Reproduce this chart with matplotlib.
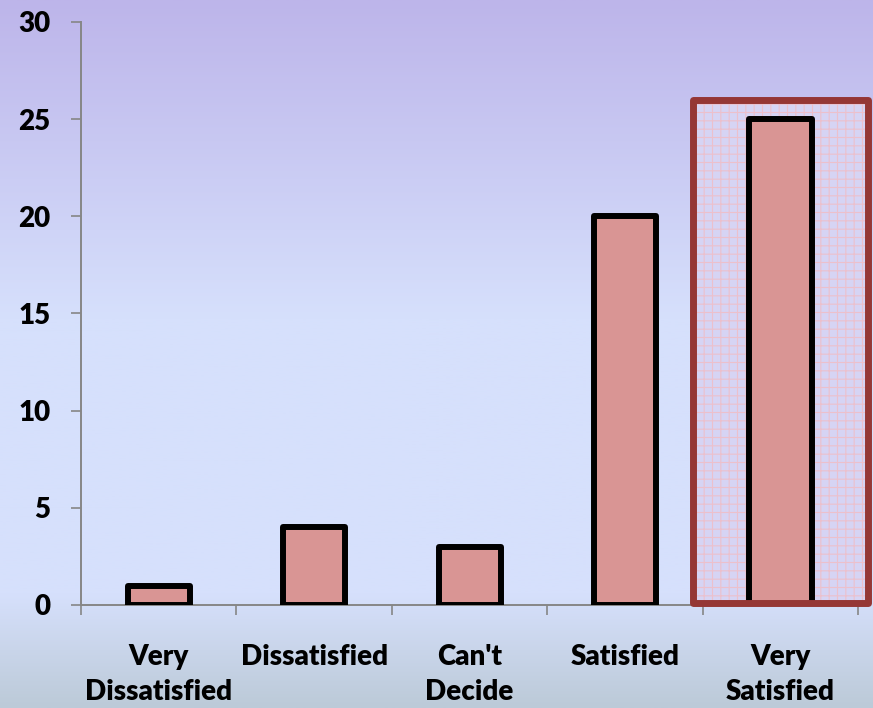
import numpy as np
import matplotlib
matplotlib.use("Agg")
import matplotlib.pyplot as plt
from matplotlib.colors import LinearSegmentedColormap
from matplotlib.patches import Rectangle

# ------------------------------------
# Data
# ------------------------------------
categories = ["Very\nDissatisfied", "Dissatisfied", "Can't\nDecide", "Satisfied", "Very\nSatisfied"]
counts = [1, 4, 3, 20, 25]
y_ticks = [0, 5, 10, 15, 20, 25, 30]
highlight_index = 4
highlight_top = 26

BAR_COLOR = "#d99594"
BOX_COLOR = "#953735"
SPINE_COLOR = "#868686"

plt.rcParams["font.family"] = ["Lato", "DejaVu Sans"]
plt.rcParams["hatch.linewidth"] = 0.8

fig = plt.figure(figsize=(8.73, 7.08), dpi=100)

# ------------------------------------
# Background gradient
# ------------------------------------
bg = fig.add_axes([0, 0, 1, 1], zorder=-10)
bg_cmap = LinearSegmentedColormap.from_list(
    "bg",
    [(0.0, "#bdb5ea"), (0.45, "#d6e0fc"), (0.84, "#d6e0fc"), (1.0, "#bccad8")],
)
grad = np.linspace(0, 1, 256).reshape(-1, 1)
bg.imshow(grad, aspect="auto", cmap=bg_cmap, extent=[0, 1, 0, 1], origin="upper")
bg.set_axis_off()

# ------------------------------------
# Chart
# ------------------------------------
ax = fig.add_axes([0.0928, 0.1455, 0.8902, 0.8235])
ax.patch.set_alpha(0)

x = np.arange(len(categories))
ax.bar(x, counts, width=0.4, color=BAR_COLOR, edgecolor="black",
       linewidth=4.3, joinstyle="round", zorder=3)

# highlight box around the last category
hx = highlight_index
ax.add_patch(Rectangle((hx - 0.565, 0.1), 1.13, highlight_top - 0.1,
                       facecolor="#d6d4f4", edgecolor="#ecc0cc", hatch="++",
                       linewidth=0, zorder=2, clip_on=False))
ax.add_patch(Rectangle((hx - 0.565, 0.1), 1.13, highlight_top - 0.1,
                       facecolor="none", edgecolor=BOX_COLOR, linewidth=5,
                       joinstyle="round", zorder=4, clip_on=False))

ax.set_xlim(-0.5, len(categories) - 0.5)
ax.set_ylim(0, 30)

ax.set_yticks(y_ticks)
ax.set_yticklabels([str(v) for v in y_ticks], fontsize=20, fontweight="heavy")

ax.set_xticks(np.arange(len(categories) + 1) - 0.5)
ax.set_xticklabels([])
ax.set_xticks(x, minor=True)
ax.set_xticklabels(categories, minor=True, fontsize=20, fontweight="heavy",
                   linespacing=1.45)

ax.tick_params(axis="y", direction="out", length=7, width=1.2,
               color=SPINE_COLOR, pad=15)
ax.tick_params(axis="x", which="major", direction="out", length=7, width=1.2,
               color=SPINE_COLOR)
ax.tick_params(axis="x", which="minor", length=0, pad=28)

for side in ["top", "right"]:
    ax.spines[side].set_visible(False)
for side in ["left", "bottom"]:
    ax.spines[side].set_color(SPINE_COLOR)
    ax.spines[side].set_linewidth(1.4)

fig.savefig("out.png", dpi=100)
